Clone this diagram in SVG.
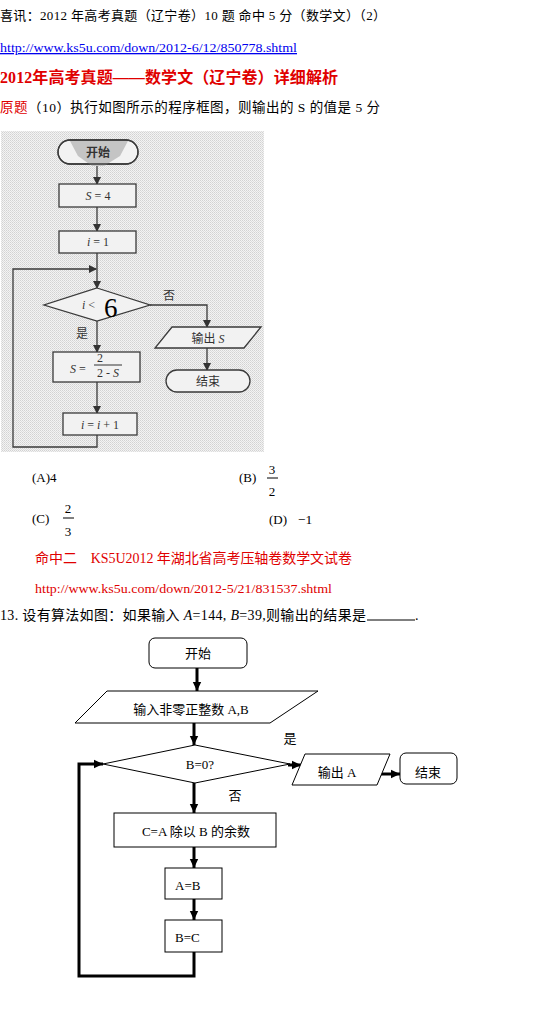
<svg xmlns="http://www.w3.org/2000/svg" width="554" height="1012" viewBox="0 0 554 1012">
<style>
.t{font-family:"Liberation Serif","Noto Sans CJK SC",serif;fill:#000}
.r{fill:#e00000}
.f1l{fill:none;stroke:#3a3a3a;stroke-width:1.3}
.f1s{fill:#f2f2f2;stroke:#3a3a3a;stroke-width:1.3}
.f1t{font-family:"Liberation Serif","Noto Sans CJK SC",serif;fill:#333;font-size:12px}
.f2s{fill:#fff;stroke:#000;stroke-width:1}
.f2l{fill:none;stroke:#000;stroke-width:3}
.f2t{font-family:"Liberation Serif","Noto Sans CJK SC",serif;fill:#000;font-size:13px}
</style>
<defs>
<pattern id="dots" width="2" height="2" patternUnits="userSpaceOnUse">
<rect width="2" height="2" fill="#f3f3f3"/><rect width="1" height="1" fill="#d2d2d2"/><rect x="1" y="1" width="1" height="1" fill="#dddddd"/>
</pattern>
<marker id="a1" markerUnits="userSpaceOnUse" markerWidth="8" markerHeight="8" refX="7" refY="4" orient="auto"><path d="M0,0 L8,4 L0,8 z" fill="#333"/></marker>
<marker id="a2" markerUnits="userSpaceOnUse" markerWidth="10" markerHeight="10" refX="9" refY="5" orient="auto"><path d="M0,0.8 L9,5 L0,9.2 z" fill="#000"/></marker>
</defs>
<rect width="554" height="1012" fill="#fff"/>

<!-- header text -->
<text class="t" x="0" y="20" font-size="13" textLength="386" lengthAdjust="spacing">喜讯：2012 年高考真题（辽宁卷）10 题 命中 5 分（数学文）（2）</text>
<text class="t" x="0" y="52" font-size="13" style="fill:#0000ee" text-decoration="underline" textLength="297" lengthAdjust="spacingAndGlyphs">http://www.ks5u.com/down/2012-6/12/850778.shtml</text>
<text class="t r" x="0" y="83" font-size="16" font-weight="bold" textLength="338" lengthAdjust="spacing">2012年高考真题——数学文（辽宁卷）详细解析</text>
<text class="t" x="0" y="112" font-size="13.5" textLength="380" lengthAdjust="spacing"><tspan class="r">原题</tspan>（10）执行如图所示的程序框图，则输出的 S 的值是 5 分</text>

<!-- flowchart 1 (scanned image) -->
<g id="fc1">
<rect x="1" y="131" width="263" height="321" fill="url(#dots)"/>
<g id="fc1-conn">
<line class="f1l" x1="97" y1="164" x2="97" y2="184" marker-end="url(#a1)"/>
<line class="f1l" x1="97" y1="207" x2="97" y2="231" marker-end="url(#a1)"/>
<line class="f1l" x1="97" y1="253" x2="97" y2="288" marker-end="url(#a1)"/>
<polyline class="f1l" points="97,435 97,447 13,447 13,269 96,269" marker-end="url(#a1)"/>
<polyline class="f1l" points="150,305 207,305 207,327" marker-end="url(#a1)"/>
<line class="f1l" x1="207" y1="348" x2="207" y2="370" marker-end="url(#a1)"/>
<line class="f1l" x1="97" y1="321" x2="97" y2="352" marker-end="url(#a1)"/>
<line class="f1l" x1="97" y1="382" x2="97" y2="413" marker-end="url(#a1)"/>
</g>
<g id="fc1-start">
<rect class="f1s" x="58" y="140" width="80" height="24" rx="12"/>
<path d="M70,141 L128,141 L120,156 L104,166 L92,166 L78,156 z" fill="#c4c4c4"/>
<rect class="f1l" x="58" y="140" width="80" height="24" rx="12"/>
<text class="f1t" x="98" y="157" text-anchor="middle" font-weight="bold" font-size="13">开始</text>
</g>
<g id="fc1-s4">
<rect class="f1s" x="59" y="184" width="77" height="23"/>
<text class="f1t" x="98" y="200" text-anchor="middle"><tspan font-style="italic">S</tspan> = 4</text>
</g>
<g id="fc1-i1">
<rect class="f1s" x="59" y="231" width="77" height="22"/>
<text class="f1t" x="98" y="246" text-anchor="middle"><tspan font-style="italic">i</tspan> = 1</text>
</g>
<g id="fc1-cond">
<polygon class="f1s" points="97,288 150,305 97,321 44,305"/>
<text class="f1t" x="82" y="309"><tspan font-style="italic">i</tspan> &lt;</text>
<text class="t" x="104" y="317" font-size="27">6</text>
<text class="f1t" x="163" y="300">否</text>
<text class="f1t" x="76" y="338">是</text>
</g>
<g id="fc1-out">
<polygon class="f1s" points="172,327 261,327 244,348 155,348"/>
<text class="f1t" x="208" y="343" text-anchor="middle">输出 <tspan font-style="italic">S</tspan></text>
</g>
<g id="fc1-end">
<rect class="f1s" x="166" y="370" width="84" height="22" rx="11"/>
<text class="f1t" x="208" y="386" text-anchor="middle">结束</text>
</g>
<g id="fc1-calc">
<rect class="f1s" x="53" y="352" width="87" height="30"/>
<text class="f1t" x="70" y="373"><tspan font-style="italic">S</tspan> =</text>
<text class="f1t" x="100" y="362" text-anchor="middle" font-size="11">2</text>
<line x1="94" y1="365" x2="122" y2="365" stroke="#333" stroke-width="1"/>
<text class="f1t" x="108" y="377" text-anchor="middle" font-size="11">2 - <tspan font-style="italic">S</tspan></text>
</g>
<g id="fc1-inc">
<rect class="f1s" x="63" y="413" width="74" height="22"/>
<text class="f1t" x="100" y="429" text-anchor="middle"><tspan font-style="italic">i</tspan> = <tspan font-style="italic">i</tspan> + 1</text>
</g>
</g>

<!-- options -->
<text class="t" x="32" y="482" font-size="13">(A)4</text>
<text class="t" x="239" y="482" font-size="13">(B)</text>
<text class="t" x="272" y="474" font-size="13" text-anchor="middle">3</text>
<line x1="267" y1="478" x2="278" y2="478" stroke="#000" stroke-width="1"/>
<text class="t" x="272" y="496" font-size="13" text-anchor="middle">2</text>
<text class="t" x="32" y="523" font-size="13">(C)</text>
<text class="t" x="68" y="513" font-size="13" text-anchor="middle">2</text>
<line x1="63" y1="518" x2="74" y2="518" stroke="#000" stroke-width="1"/>
<text class="t" x="68" y="536" font-size="13" text-anchor="middle">3</text>
<text class="t" x="269" y="524" font-size="13">(D)</text>
<text class="t" x="298" y="524" font-size="13.5">−1</text>

<text class="t r" x="35" y="563" font-size="14" textLength="317" lengthAdjust="spacing">命中二　KS5U2012 年湖北省高考压轴卷数学文试卷</text>
<text class="t r" x="35" y="593" font-size="13" textLength="297" lengthAdjust="spacingAndGlyphs">http://www.ks5u.com/down/2012-5/21/831537.shtml</text>
<text class="t" x="0" y="620" font-size="14" textLength="366" lengthAdjust="spacing">13.  设有算法如图：如果输入 <tspan font-style="italic">A</tspan>=144,  <tspan font-style="italic">B</tspan>=39,则输出的结果是</text>
<line x1="367" y1="620" x2="415" y2="620" stroke="#000" stroke-width="1"/>
<text class="t" x="415" y="620" font-size="14">.</text>

<!-- flowchart 2 -->
<g id="fc2">
<g id="fc2-conn">
<line class="f2l" x1="197" y1="668" x2="197" y2="691" marker-end="url(#a2)"/>
<line class="f2l" x1="194" y1="723" x2="194" y2="745" marker-end="url(#a2)"/>
<line class="f2l" x1="288" y1="765" x2="301" y2="765" marker-end="url(#a2)"/>
<line class="f2l" x1="379" y1="774" x2="400" y2="774" marker-end="url(#a2)"/>
<line class="f2l" x1="194" y1="783" x2="194" y2="813" marker-end="url(#a2)"/>
<line class="f2l" x1="194" y1="847" x2="194" y2="868" marker-end="url(#a2)"/>
<line class="f2l" x1="194" y1="899" x2="194" y2="920" marker-end="url(#a2)"/>
<polyline class="f2l" stroke-width="2.5" points="194,952 194,976 79,976 79,764 103,764" marker-end="url(#a2)"/>
</g>
<g id="fc2-start">
<rect class="f2s" x="149" y="638" width="98" height="30" rx="6"/>
<text class="f2t" x="198" y="658" text-anchor="middle">开始</text>
</g>
<g id="fc2-input">
<polygon class="f2s" points="107,691 318,691 270,723 75,723"/>
<text class="f2t" x="191" y="714" text-anchor="middle">输入非零正整数 A,B</text>
</g>
<g id="fc2-cond">
<polygon class="f2s" points="195,745 290,764 195,783 103,764"/>
<text class="f2t" x="200" y="769" text-anchor="middle" font-size="12">B=0?</text>
<text class="f2t" x="290" y="743" text-anchor="middle" font-size="14">是</text>
<text class="f2t" x="235" y="800" text-anchor="middle" font-size="14">否</text>
</g>
<g id="fc2-out">
<polygon class="f2s" points="305,754 390,754 377,785 292,785"/>
<text class="f2t" x="337" y="777" text-anchor="middle">输出 A</text>
</g>
<g id="fc2-end">
<rect class="f2s" x="400" y="753" width="57" height="31" rx="6"/>
<text class="f2t" x="428" y="777" text-anchor="middle">结束</text>
</g>
<g id="fc2-mod">
<rect class="f2s" x="114" y="813" width="162" height="34"/>
<text class="f2t" x="196" y="836" text-anchor="middle">C=A 除以 B 的余数</text>
</g>
<g id="fc2-ab">
<rect class="f2s" x="165" y="868" width="57" height="31"/>
<text class="f2t" x="175" y="890">A=B</text>
</g>
<g id="fc2-bc">
<rect class="f2s" x="165" y="920" width="57" height="32"/>
<text class="f2t" x="175" y="942">B=C</text>
</g>
</g>
</svg>
